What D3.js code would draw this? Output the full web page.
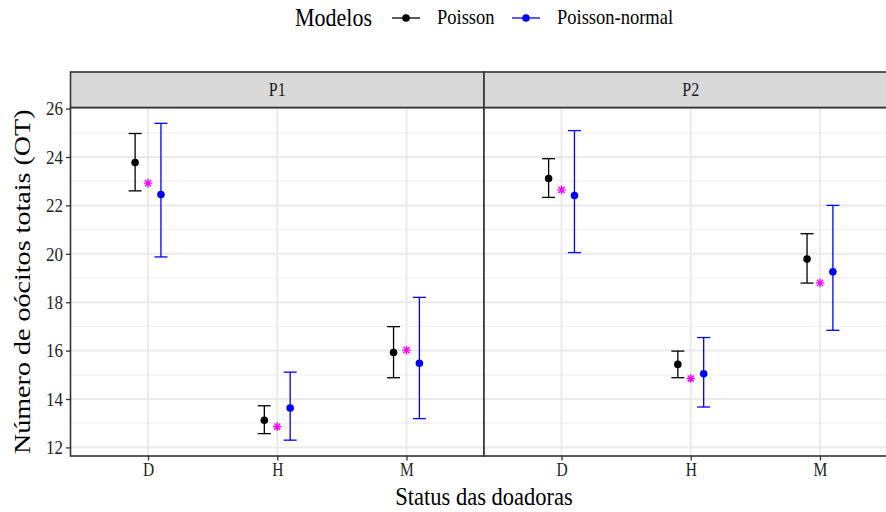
<!DOCTYPE html>
<html>
<head>
<meta charset="utf-8">
<script src="https://cdn.jsdelivr.net/npm/d3@7"></script>
<style>
  html, body { margin: 0; padding: 0; background: #fff; }
  svg { display: block; }
  text { font-family: "Liberation Serif", "Times New Roman", serif; }
</style>
</head>
<body>
<svg id="chart" width="886" height="512"></svg>
<script>
// Facets, categories and model estimates with 95% intervals
const panels = ["P1", "P2"];
const categories = ["D", "H", "M"];
const yTicks = [12, 14, 16, 18, 20, 22, 24, 26];
const models = ["Poisson", "Poisson-normal"];
const modelColors = ["#000000", "#0000FF"];

const poissonMean = { P1: [23.77, 13.12, 15.92], P2: [23.11, 15.43, 19.78] };
const poissonLow  = { P1: [22.60, 12.57, 14.88], P2: [22.33, 14.88, 18.79] };
const poissonHigh = { P1: [24.97, 13.72, 16.99], P2: [23.93, 15.98, 20.83] };

const pnMean = { P1: [22.45, 13.63, 15.48], P2: [22.41, 15.04, 19.26] };
const pnLow  = { P1: [19.87, 12.30, 13.19], P2: [20.05, 13.67, 16.84] };
const pnHigh = { P1: [25.39, 15.11, 18.20], P2: [25.09, 16.54, 22.00] };

// Observed means (asterisks)
const observed = { P1: [22.92, 12.86, 16.02], P2: [22.64, 14.85, 18.80] };

const svg = d3.select("#chart");
const serif = "'Liberation Serif', 'Times New Roman', serif";
const tall = 1.15; // vertical stretch of the lettering

const panelTop = 107.5, panelBottom = 456;
const stripTop = 72;
const panelLeft = 70.5, panelWidth = 413.5;

// y scale with 5% expansion on both sides
const allVals = [].concat(...panels.map(p => [...poissonLow[p], ...poissonHigh[p], ...pnLow[p], ...pnHigh[p], ...observed[p]]));
const yMin = d3.min(allVals), yMax = d3.max(allVals);
const pad = (yMax - yMin) * 0.05;
const y = d3.scaleLinear().domain([yMin - pad, yMax + pad]).range([panelBottom, panelTop]);

const minorTicks = d3.range(13, 26, 2);

const rows = [
  { mean: poissonMean, low: poissonLow, high: poissonHigh, color: modelColors[0], dodge: -1 },
  { mean: pnMean, low: pnLow, high: pnHigh, color: modelColors[1], dodge: 1 }
];

function asterisk(cx, cy, r) {
  const d = r * Math.SQRT1_2;
  return `M${cx - r},${cy}L${cx + r},${cy}M${cx},${cy - r}L${cx},${cy + r}` +
         `M${cx - d},${cy - d}L${cx + d},${cy + d}M${cx - d},${cy + d}L${cx + d},${cy - d}`;
}

// horizontal label drawn with taller glyphs, anchored at (x, y)
function label(parent, x, yy, txt, size, anchor, baseline) {
  return parent.append("text")
    .attr("transform", `translate(${x},${yy}) scale(1,${tall})`)
    .attr("text-anchor", anchor || "start")
    .attr("dominant-baseline", baseline || "auto")
    .attr("font-size", size).attr("fill", "#000").text(txt);
}

panels.forEach((p, pi) => {
  const x0 = panelLeft + pi * panelWidth;
  const x = d3.scalePoint().domain(categories).range([x0, x0 + panelWidth]).padding(0.6);
  const dodge = x.step() * 0.1;
  const g = svg.append("g");

  g.append("rect").attr("x", x0).attr("y", panelTop).attr("width", panelWidth)
    .attr("height", panelBottom - panelTop).attr("fill", "#fff");

  // minor grid
  g.selectAll(".minor").data(minorTicks).join("line")
    .attr("x1", x0).attr("x2", x0 + panelWidth)
    .attr("y1", d => y(d)).attr("y2", d => y(d))
    .attr("stroke", "#F2F2F2").attr("stroke-width", 1.2);
  // major grid
  g.selectAll(".majorY").data(yTicks).join("line")
    .attr("x1", x0).attr("x2", x0 + panelWidth)
    .attr("y1", d => y(d)).attr("y2", d => y(d))
    .attr("stroke", "#EBEBEB").attr("stroke-width", 2);
  g.selectAll(".majorX").data(categories).join("line")
    .attr("x1", d => x(d)).attr("x2", d => x(d))
    .attr("y1", panelTop).attr("y2", panelBottom)
    .attr("stroke", "#EBEBEB").attr("stroke-width", 2);

  // error bars and points per model
  rows.forEach(r => {
    categories.forEach((c, ci) => {
      const cx = x(c) + r.dodge * dodge;
      const lo = y(r.low[p][ci]), hi = y(r.high[p][ci]);
      const cap = 6.5;
      g.append("line").attr("x1", cx).attr("x2", cx).attr("y1", lo).attr("y2", hi)
        .attr("stroke", r.color).attr("stroke-width", 1.3);
      g.append("line").attr("x1", cx - cap).attr("x2", cx + cap).attr("y1", lo).attr("y2", lo)
        .attr("stroke", r.color).attr("stroke-width", 1.3);
      g.append("line").attr("x1", cx - cap).attr("x2", cx + cap).attr("y1", hi).attr("y2", hi)
        .attr("stroke", r.color).attr("stroke-width", 1.3);
      g.append("circle").attr("cx", cx).attr("cy", y(r.mean[p][ci])).attr("r", 3.8)
        .attr("fill", r.color);
    });
  });

  // observed means
  categories.forEach((c, ci) => {
    g.append("path").attr("d", asterisk(x(c), y(observed[p][ci]), 4.3))
      .attr("stroke", "#FF00FF").attr("stroke-width", 1.4).attr("fill", "none");
  });

  // panel border
  g.append("rect").attr("x", x0).attr("y", panelTop).attr("width", panelWidth)
    .attr("height", panelBottom - panelTop).attr("fill", "none")
    .attr("stroke", "#333333").attr("stroke-width", 1.6);

  // strip
  g.append("rect").attr("x", x0).attr("y", stripTop).attr("width", panelWidth)
    .attr("height", panelTop - stripTop).attr("fill", "#D9D9D9")
    .attr("stroke", "#333333").attr("stroke-width", 1.6);
  label(g, x0 + panelWidth / 2, (stripTop + panelTop) / 2 + 6, p, 16, "middle").attr("fill", "#1A1A1A");

  // x axis
  const xAxis = g.append("g").attr("transform", `translate(0,${panelBottom})`)
    .call(d3.axisBottom(x).tickSize(4.5).tickPadding(4));
  xAxis.select(".domain").remove();
  xAxis.selectAll("line").attr("stroke", "#333333").attr("stroke-width", 1.3);
  xAxis.selectAll("text").attr("font-size", 15.5).attr("fill", "#222")
    .attr("y", 7.5 / tall).attr("transform", `scale(1,${tall})`)
    .style("font-family", serif);
});

// y axis
const yAxis = svg.append("g").attr("transform", `translate(${panelLeft},0)`)
  .call(d3.axisLeft(y).tickValues(yTicks).tickSize(4.5).tickPadding(3));
yAxis.select(".domain").remove();
yAxis.selectAll("line").attr("stroke", "#333333").attr("stroke-width", 1.3);
yAxis.selectAll("text").attr("font-size", 17).attr("fill", "#222")
  .attr("transform", `scale(1,${tall})`)
  .style("font-family", serif);

// axis titles
label(svg, 484, 505, "Status das doadoras", 22.5, "middle");
svg.append("text")
  .attr("transform", `translate(30,${(panelTop + panelBottom) / 2}) rotate(-90) scale(1.17,1)`)
  .attr("text-anchor", "middle").attr("font-size", 24).attr("fill", "#000")
  .text("Número de oócitos totais (OT)");

// legend
const leg = svg.append("g").attr("transform", "translate(0,18)");
label(leg, 295, 7.5, "Modelos", 22, "start");
const keyX = [392, 512];
models.forEach((m, i) => {
  leg.append("line").attr("x1", keyX[i]).attr("x2", keyX[i] + 28).attr("y1", 0).attr("y2", 0)
    .attr("stroke", modelColors[i]).attr("stroke-width", 1.3);
  leg.append("circle").attr("cx", keyX[i] + 14).attr("cy", 0).attr("r", 3.8).attr("fill", modelColors[i]);
  label(leg, keyX[i] + 45, 6, m, 18.5, "start");
});
</script>
</body>
</html>
